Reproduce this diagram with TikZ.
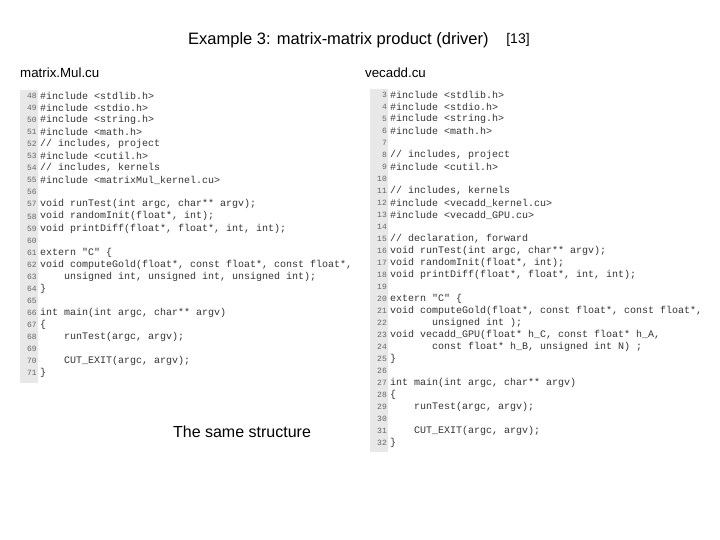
\documentclass[tikz,border=0pt]{standalone}
\usepackage{fontspec}
\setmainfont{Liberation Sans}
\newfontfamily\codefont{Liberation Mono}
\tikzset{
  code/.style={anchor=west,inner sep=0pt,font=\codefont\fontsize{10}{10}\selectfont,text=black!80},
  lnum/.style={anchor=east,inner sep=0pt,font=\codefont\fontsize{8}{9}\selectfont,text=black!60},
  gutter/.style={fill=black!9,draw=none},
  title/.style={inner sep=0pt,font=\fontsize{13.3}{15}\selectfont},
}
\newcommand{\cl}[5]{% x gutterright, y, num, text, name
  \node[lnum] (n#5) at (#1,#2) {#3};
  \node[code] (c#5) at (#1+3,#2) {#4};}
\newcommand\LL[2]{\pgfmathsetmacro\yy{96+12.04*(#1-48)}\cl{37}{\yy}{#1}{#2}{a#1}}
\newcommand\RR[2]{\pgfmathsetmacro\yy{95+12.0*(#1-3)}\cl{387}{\yy}{#1}{#2}{b#1}}
\begin{document}
\begin{tikzpicture}[x=1pt,y=-1pt]
\useasboundingbox (0,0) rectangle (720,540);
\node[title,font=\fontsize{16.5}{18}\selectfont,anchor=west] (t) at (188,40) {Example 3: matrix-matrix product (driver)};
\node[title,font=\fontsize{14}{16}\selectfont] (r) at (518,40) {[13]};
\node[title,anchor=west] (f1) at (20,73) {matrix.Mul.cu};
\node[title,anchor=west] (f2) at (365,73) {vecadd.cu};
\node[title,font=\fontsize{16}{18}\selectfont] (s) at (242,432) {The same structure};
\fill[gutter] (20,90) rectangle (38,383);
\fill[gutter] (370,89) rectangle (388,452);
\LL{48}{\#include <stdlib.h>}
\LL{49}{\#include <stdio.h>}
\LL{50}{\#include <string.h>}
\LL{51}{\#include <math.h>}
\LL{52}{// includes, project}
\LL{53}{\#include <cutil.h>}
\LL{54}{// includes, kernels}
\LL{55}{\#include <matrixMul\_kernel.cu>}
\LL{56}{}
\LL{57}{void runTest(int argc, char** argv);}
\LL{58}{void randomInit(float*, int);}
\LL{59}{void printDiff(float*, float*, int, int);}
\LL{60}{}
\LL{61}{extern "C" \{}
\LL{62}{void computeGold(float*, const float*, const float*,}
\LL{63}{\ \ \ \ unsigned int, unsigned int, unsigned int);}
\LL{64}{\}}
\LL{65}{}
\LL{66}{int main(int argc, char** argv)}
\LL{67}{\{}
\LL{68}{\ \ \ \ runTest(argc, argv);}
\LL{69}{}
\LL{70}{\ \ \ \ CUT\_EXIT(argc, argv);}
\LL{71}{\}}
\RR{3}{\#include <stdlib.h>}
\RR{4}{\#include <stdio.h>}
\RR{5}{\#include <string.h>}
\RR{6}{\#include <math.h>}
\RR{7}{}
\RR{8}{// includes, project}
\RR{9}{\#include <cutil.h>}
\RR{10}{}
\RR{11}{// includes, kernels}
\RR{12}{\#include <vecadd\_kernel.cu>}
\RR{13}{\#include <vecadd\_GPU.cu>}
\RR{14}{}
\RR{15}{// declaration, forward}
\RR{16}{void runTest(int argc, char** argv);}
\RR{17}{void randomInit(float*, int);}
\RR{18}{void printDiff(float*, float*, int, int);}
\RR{19}{}
\RR{20}{extern "C" \{}
\RR{21}{void computeGold(float*, const float*, const float*,}
\RR{22}{\ \ \ \ \ \ \ unsigned int );}
\RR{23}{void vecadd\_GPU(float* h\_C, const float* h\_A,}
\RR{24}{\ \ \ \ \ \ \ const float* h\_B, unsigned int N) ;}
\RR{25}{\}}
\RR{26}{}
\RR{27}{int main(int argc, char** argv)}
\RR{28}{\{}
\RR{29}{\ \ \ \ runTest(argc, argv);}
\RR{30}{}
\RR{31}{\ \ \ \ CUT\_EXIT(argc, argv);}
\RR{32}{\}}
\end{tikzpicture}
\end{document}
